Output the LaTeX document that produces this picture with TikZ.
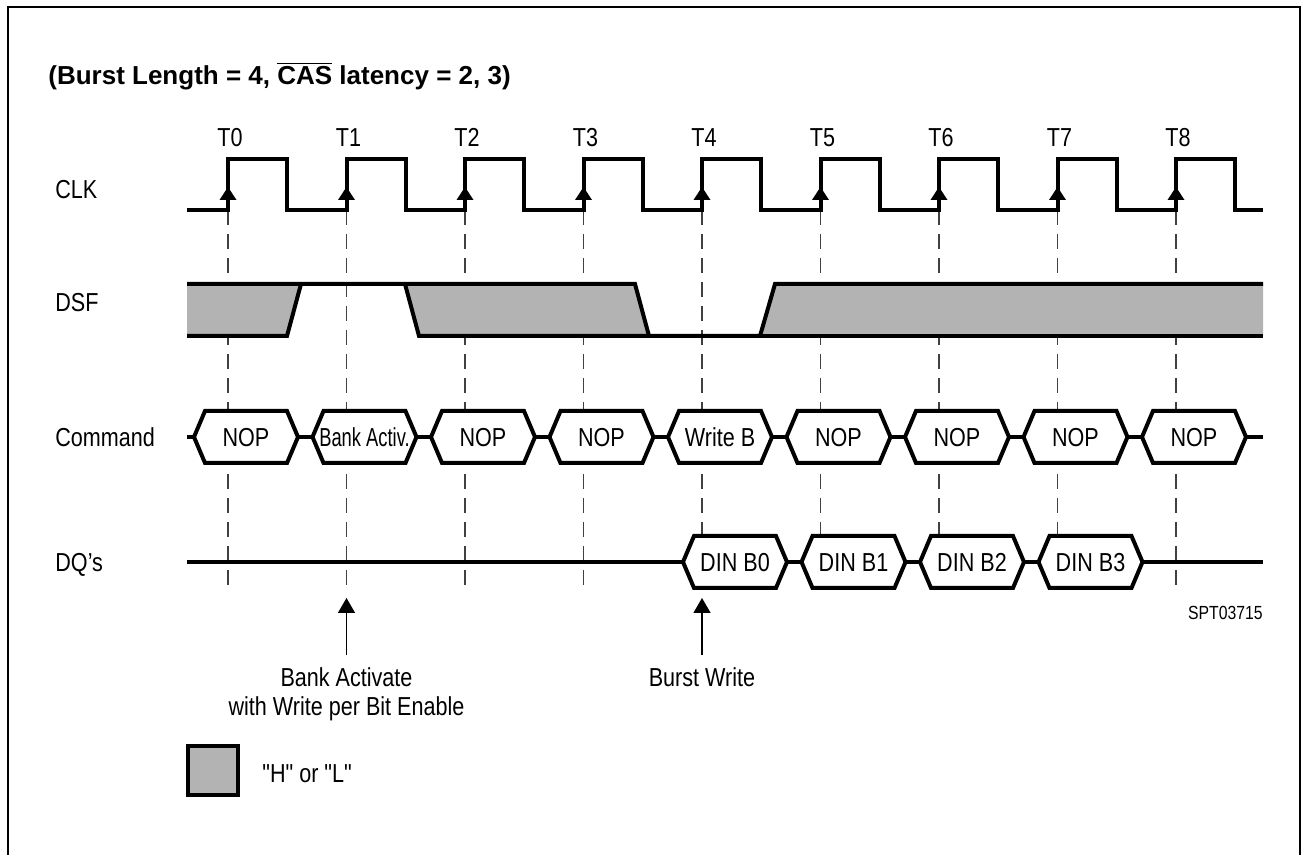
\documentclass[tikz,border=0pt]{standalone}
\usepackage{fontspec}
\setmainfont{Liberation Sans}[FakeStretch=0.83]
\newfontfamily\titlefont{Liberation Sans}
\usetikzlibrary{positioning,arrows.meta}
\definecolor{hlgray}{RGB}{179,179,179}

\tikzset{
sig/.style={line width=2pt},
guide/.style={line width=0.7pt,black!75,dash pattern=on 7.5pt off 4.5pt},
txt/.style={font=\fontsize{13}{14.5}\selectfont,inner sep=0pt},
lbl/.style={txt,text height=9.3pt,text depth=0pt},
hexbox/.style={minimum width=52pt,minimum height=26pt,inner sep=0pt,outer sep=0pt},
hexof/.style={insert path={(#1.west) -- ([xshift=5.5pt]#1.north west) -- ([xshift=-5.5pt]#1.north east)
  -- (#1.east) -- ([xshift=-5.5pt]#1.south east) -- ([xshift=5.5pt]#1.south west) -- cycle}},
ptr/.style={line width=0.75pt,-{Triangle[length=7.5pt,width=8.5pt]}},
}

\begin{document}
\begin{tikzpicture}[x=0.5pt,y=-0.5pt]
\useasboundingbox (0,0) rectangle (1302,855);
\draw[line width=1pt] (8,855) -- (8,7) -- (1300,7) -- (1300,855);

\node[anchor=west,inner sep=0pt,font=\titlefont\fontsize{13}{15}\selectfont\bfseries] (title) at (48,76)
  {(Burst Length = 4, $\overline{\hbox{CAS}}$ latency = 2, 3)};

% signal names
\node[lbl,anchor=west] (clk) at (55,189) {CLK};
\node[lbl,anchor=west] (dsf) at (55,302) {DSF};
\node[lbl,anchor=west] (cmd) at (55,437) {Command};
\node[lbl,anchor=west] (dq) at (55,562) {DQ's};

% clock edges
\foreach \i in {0,...,8}{
  \pgfmathsetmacro{\tx}{228+118.5*\i}
  \draw[guide] (\tx,210) -- (\tx,589);
  \node[lbl] (t\i) at ({\tx+2},137) {T\i};
}
\draw[sig] (187,210) foreach \i in {0,...,8}{ -- ({228+118.5*\i},210) -- ++(0,-51) -- ++(59,0) -- ++(0,51)} -- (1263,210);
\foreach \i in {0,...,8}
  \fill ({228+118.5*\i},187) -- ++(-8.5,13) -- ++(17,0) -- cycle;

% DSF
\fill[hlgray] (187,284) -- (301,284) -- (287,336) -- (187,336) -- cycle;
\fill[hlgray] (405,284) -- (635,284) -- (649,336) -- (419,336) -- cycle;
\fill[hlgray] (775,284) -- (1263,284) -- (1263,336) -- (760,336) -- cycle;
\draw[sig] (187,284) -- (635,284) -- (649,336) -- (760,336) -- (775,284) -- (1263,284);
\draw[sig] (187,336) -- (287,336) -- (301,284);
\draw[sig] (405,284) -- (419,336) -- (649,336);
\draw[sig] (760,336) -- (1263,336);

% command bus
\foreach \i/\txt in {0/NOP,1/{\scalebox{0.85}[1]{Bank Activ.}},2/NOP,3/NOP,4/Write B,5/NOP,6/NOP,7/NOP,8/NOP}{
  \node[hexbox] (c\i) at ({246+118.5*\i},437) {};
  \filldraw[sig,fill=white,hexof=c\i];
  \node[lbl] (ct\i) at (c\i) {\txt};
}
\coordinate (cstart) at (187,437);
\coordinate (cend) at (1263,437);
\draw[sig] (cstart) -- (c0.west);
\foreach \i [evaluate=\i as \j using int(\i+1)] in {0,...,7}
  \draw[sig] (c\i.east) -- (c\j.west);
\draw[sig] (c8.east) -- (cend);

% data bus
\foreach \i in {0,...,3}{
  \node[hexbox] (d\i) at ({735+118.5*\i},562) {};
  \filldraw[sig,fill=white,hexof=d\i];
  \node[lbl] (dt\i) at (d\i) {DIN B\i};
}
\coordinate (dstart) at (187,562);
\coordinate (dend) at (1263,562);
\draw[sig] (dstart) -- (d0.west);
\foreach \i [evaluate=\i as \j using int(\i+1)] in {0,...,2}
  \draw[sig] (d\i.east) -- (d\j.west);
\draw[sig] (d3.east) -- (dend);

\node[anchor=east,inner sep=0pt,font=\fontsize{9.5}{11}\selectfont] (spt) at (1263,613) {SPT03715};

% events
\coordinate (batip) at (346.5,598);
\coordinate (bwtip) at (702,598);
\node[txt,anchor=north,inner sep=3pt,align=center] (bankact) at (346.5,661) {Bank Activate\\with Write per Bit Enable};
\node[txt,anchor=north,inner sep=3pt] (burstwr) at (702,661) {Burst Write};
\draw[ptr,shorten <=3pt] (bankact.north) -- (batip);
\draw[ptr,shorten <=3pt] (burstwr.north) -- (bwtip);

% legend
\node[draw,fill=hlgray,line width=2pt,minimum width=25pt,minimum height=24.5pt,inner sep=0pt] (legbox) at (213,770.5) {};
\node[lbl,anchor=west] (legtxt) at (262,773) {\addfontfeatures{Ligatures=TeXOff}"H" or "L"};
\end{tikzpicture}
\end{document}
